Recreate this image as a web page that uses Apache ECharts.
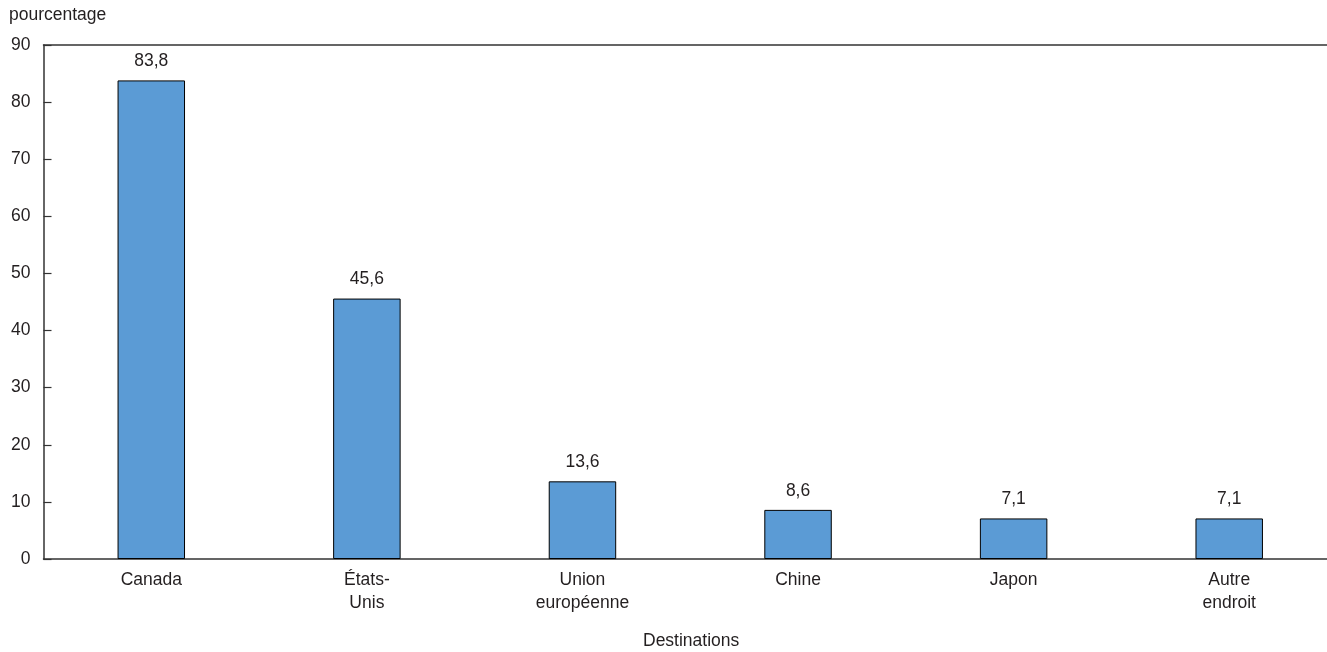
<!DOCTYPE html>
<html><head><meta charset="utf-8">
<script src="https://cdn.jsdelivr.net/npm/echarts@6/dist/echarts.min.js"></script>
<style>html,body{margin:0;padding:0;background:#fff;overflow:hidden;width:1327px;height:652px}#c{width:1337px;height:652px}</style>
</head><body><div id="c"></div>
<script>
const categories = ["Canada", "États-\nUnis", "Union\neuropéenne", "Chine", "Japon", "Autre\nendroit"];
const values = [83.8, 45.6, 13.6, 8.6, 7.1, 7.1];
const yTicks = [0, 10, 20, 30, 40, 50, 60, 70, 80, 90];
const yName = "pourcentage";
const xName = "Destinations";

const FONT = "'Liberation Sans', Arial, sans-serif";
const FS = 17.5;
const TXT = "#231f20";
const chart = echarts.init(document.getElementById('c'), null, {renderer: 'canvas'});
chart.setOption({
  animation: false,
  textStyle: {fontFamily: FONT},
  grid: {left: 43.5, right: 0, top: 45, bottom: 93, containLabel: false},
  graphic: [
    {type: 'text', left: 9, top: 6, style: {text: yName, font: FS + 'px ' + FONT, fill: TXT}},
    {type: 'text', left: 643, top: 632, style: {text: xName, font: FS + 'px ' + FONT, fill: TXT}}
  ],
  xAxis: [{
    type: 'category',
    data: categories,
    axisLine: {show: true, lineStyle: {color: '#333', width: 1.5}},
    axisTick: {show: false},
    axisLabel: {color: TXT, fontSize: FS, fontFamily: FONT, margin: 10, lineHeight: 23, interval: 0}
  }, {
    type: 'category',
    position: 'top',
    data: categories,
    axisLine: {show: true, onZero: false, lineStyle: {color: '#333', width: 1.5}},
    axisTick: {show: false},
    axisLabel: {show: false}
  }],
  yAxis: {
    type: 'value',
    min: 0, max: 90, interval: 10,
    axisLine: {show: true, lineStyle: {color: '#333', width: 1.5}},
    axisTick: {show: true, inside: true, length: 8, lineStyle: {color: '#333', width: 1.2}},
    splitLine: {show: false},
    axisLabel: {color: TXT, fontSize: FS, fontFamily: FONT, margin: 13,
      formatter: v => yTicks.includes(v) ? String(v) : ''}
  },
  series: [{
    type: 'bar',
    data: values,
    barWidth: '31.3%',
    itemStyle: {color: '#5b9bd5', borderColor: '#000', borderWidth: 1},
    label: {show: true, position: 'top', distance: 10, color: TXT, fontSize: FS, fontFamily: FONT,
      formatter: p => String(p.value).replace('.', ',')}
  }]
});
</script></body></html>
